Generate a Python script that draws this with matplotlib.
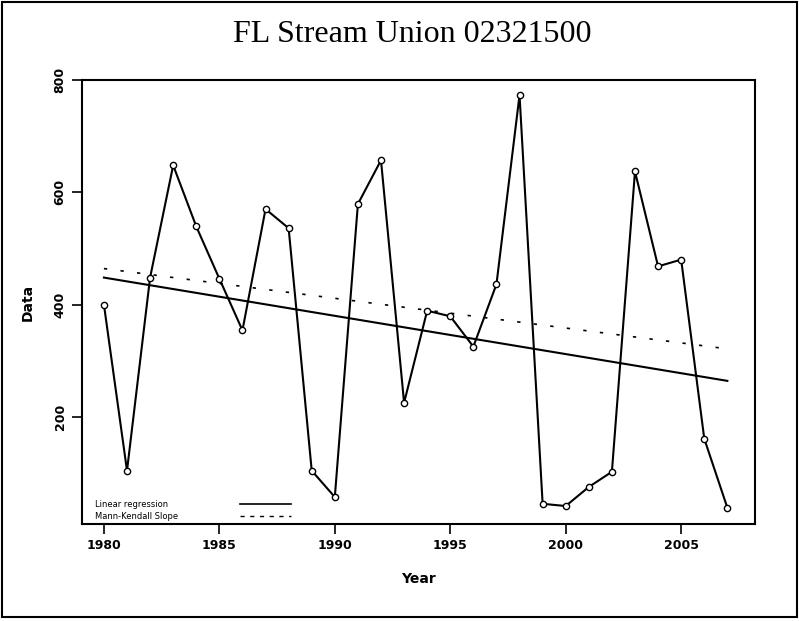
import matplotlib
matplotlib.use("Agg")
import matplotlib.pyplot as plt
from matplotlib.patches import Rectangle
import numpy as np

# annual values
years = list(range(1980, 2008))
values = [400, 104, 448, 648, 539, 446, 354, 570, 536, 104,
          57, 579, 657, 225, 389, 379, 325, 436, 773, 45,
          41, 75, 102, 637, 468, 480, 161, 38]

# trend lines (value at first and last year)
trend_years = [1980, 2007]
linreg_vals = [448, 264]
mk_vals = [464, 321]

xticks = [1980, 1985, 1990, 1995, 2000, 2005]
yticks = [200, 400, 600, 800]

fig = plt.figure(figsize=(7.99, 6.21), dpi=100)
ax = fig.add_axes([0.1026, 0.1562, 0.8424, 0.715])

ax.plot(years, values, color="black", lw=1.5, marker="o", ms=4.5,
        mfc="white", mec="black", mew=1.0, zorder=3)
ax.plot(trend_years, linreg_vals, color="black", lw=1.5, zorder=2)
ax.plot(trend_years, mk_vals, color="black", lw=1.2, ls=(0, (2, 8)), zorder=2)

ax.set_xlim(1979.05, 2008.2)
ax.set_ylim(9, 800)
ax.set_xticks(xticks)
ax.set_yticks(yticks)
ax.set_xticklabels([str(x) for x in xticks], fontsize=9, fontweight="bold")
ax.set_yticklabels([str(y) for y in yticks], fontsize=9, fontweight="bold",
                   rotation=90, va="center")
ax.tick_params(direction="out", length=7, width=1.2, pad=4)
for s in ax.spines.values():
    s.set_linewidth(1.5)

ax.set_xlabel("Year", fontsize=10, fontweight="bold", labelpad=14)
ax.set_ylabel("Data", fontsize=10, fontweight="bold", labelpad=14)

# small legend in lower left
ax.text(0.02, 0.045, "Linear regression", transform=ax.transAxes,
        fontsize=6, va="center", ha="left")
ax.text(0.02, 0.018, "Mann-Kendall Slope", transform=ax.transAxes,
        fontsize=6, va="center", ha="left")
ax.plot([0.235, 0.31], [0.045, 0.045], transform=ax.transAxes,
        color="black", lw=1.2)
ax.plot([0.235, 0.31], [0.018, 0.018], transform=ax.transAxes,
        color="black", lw=1.0, ls=(0, (3, 4)))

fig.text(0.516, 0.945, "FL Stream Union 02321500", fontsize=23,
         family="Liberation Serif", ha="center", va="center")

# outer frame
fig.patches.append(Rectangle((0.003, 0.006), 0.994, 0.99, transform=fig.transFigure,
                             fill=False, edgecolor="black", lw=1.5))

fig.savefig("out.png", dpi=100)
